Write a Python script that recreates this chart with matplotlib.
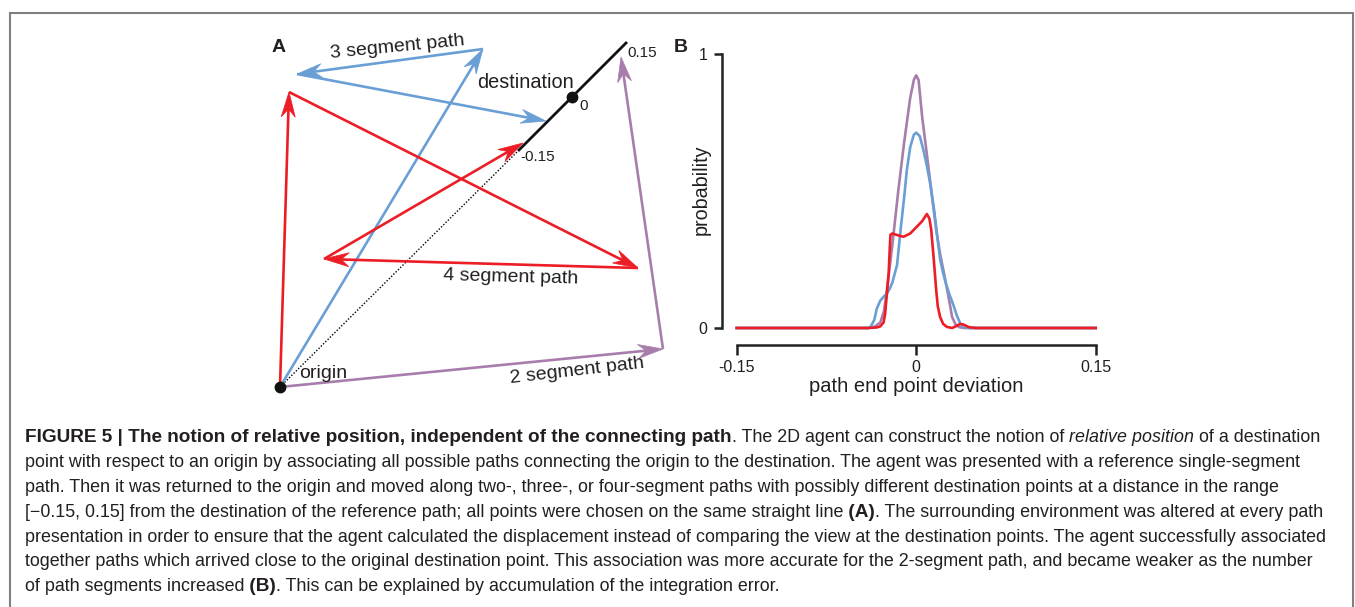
import numpy as np
import matplotlib
matplotlib.use("Agg")
import matplotlib.pyplot as plt
from matplotlib.patches import Polygon

# ---------------- data ----------------
# Panel A schematic (figure pixel coordinates of the drawing)
origin = (280, 387)
dest_minus = (518, 151)     # -0.15
dest_zero = (571.5, 96.5)   # 0
dest_plus = (627, 42)       # 0.15
path2 = [(280, 387), (663, 349), (621, 57)]
path3 = [(280, 387), (483, 49), (297, 74), (546, 121)]
path4 = [(280, 387), (289, 92), (638, 268), (324, 259), (523, 143)]

# Panel B curves
purple_x = [-0.15, -0.040, -0.035, -0.030, -0.027, -0.0245, -0.020, -0.015, -0.010, -0.005,
            -0.002, 0.0, 0.002, 0.005, 0.010, 0.0135, 0.017, 0.020, 0.025, 0.028, 0.030,
            0.033, 0.036, 0.040, 0.15]
purple_y = [0, 0, 0.004, 0.02, 0.06, 0.139, 0.30, 0.50, 0.68, 0.84,
            0.905, 0.922, 0.905, 0.77, 0.595, 0.47, 0.35, 0.27, 0.16, 0.09, 0.04,
            0.012, 0.003, 0, 0]
blue_x = [-0.15, -0.040, -0.038, -0.035, -0.033, -0.030, -0.027, -0.0245, -0.022, -0.020,
          -0.016, -0.013, -0.010, -0.0078, -0.005, -0.002, 0.0, 0.003, 0.006, 0.009, 0.012,
          0.015, 0.018, 0.020, 0.0225, 0.025, 0.028, 0.031, 0.034, 0.037, 0.040, 0.045, 0.15]
blue_y = [0, 0, 0.005, 0.03, 0.07, 0.10, 0.115, 0.125, 0.145, 0.165,
          0.23, 0.36, 0.48, 0.577, 0.66, 0.705, 0.713, 0.70, 0.65, 0.59, 0.52,
          0.43, 0.32, 0.25, 0.20, 0.16, 0.12, 0.085, 0.045, 0.015, 0.003, 0, 0]
red_x = [-0.15, -0.040, -0.033, -0.030, -0.0273, -0.026, -0.025, -0.023, -0.022, -0.0215,
         -0.020, -0.015, -0.0106, -0.005, 0.0006, 0.005, 0.0089, 0.011, 0.0125, 0.0145,
         0.0167, 0.018, 0.020, 0.0225, 0.0256, 0.030, 0.033, 0.0368, 0.040, 0.044, 0.050, 0.15]
red_y = [0, 0, 0.002, 0.006, 0.02, 0.05, 0.10, 0.20, 0.30, 0.34,
         0.345, 0.338, 0.333, 0.345, 0.37, 0.39, 0.416, 0.40, 0.36, 0.26,
         0.139, 0.08, 0.04, 0.015, 0.004, 0.0, 0.006, 0.015, 0.012, 0.003, 0, 0]
xticks = [-0.15, 0, 0.15]
xticklabels = ["-0.15", "0", "0.15"]
yticks = [0, 1]
yticklabels = ["0", "1"]

PURPLE = "#a77dab"
BLUE = "#6a9fd6"
RED = "#ec1d25"
INK = "#231f20"

W, H = 1355, 607
fig = plt.figure(figsize=(W / 100, H / 100), dpi=100)
fig.patch.set_facecolor("white")

axA = fig.add_axes([0, 0, 1, 1])
axA.set_xlim(0, W)
axA.set_ylim(H, 0)
axA.axis("off")

# border
axA.plot([9.5, 9.5, 1352.5, 1352.5], [607, 12.5, 12.5, 607], color="#7f7f7f", lw=1.5,
         solid_joinstyle="miter", clip_on=False)


def arrow(ax, p0, p1, color, lw=1.9, L=25, notch=17, Wd=7):
    p0 = np.asarray(p0, float)
    p1 = np.asarray(p1, float)
    d = p1 - p0
    u = d / np.hypot(*d)
    n = np.array([-u[1], u[0]])
    base = p1 - u * notch
    ax.plot([p0[0], base[0]], [p0[1], base[1]], color=color, lw=lw, solid_capstyle="butt")
    head = [p1, p1 - u * L + n * Wd, base, p1 - u * L - n * Wd]
    ax.add_patch(Polygon(head, closed=True, fc=color, ec=color, lw=0.5))


# reference line
axA.plot([origin[0], dest_minus[0]], [origin[1], dest_minus[1]], color="black", lw=1.0,
         ls=(0, (1, 1.3)))
axA.plot([dest_minus[0], dest_plus[0]], [dest_minus[1], dest_plus[1]], color="#111111", lw=2.0,
         solid_capstyle="butt")

for path, col in [(path2, PURPLE), (path3, BLUE), (path4, RED)]:
    for a, b in zip(path[:-1], path[1:]):
        arrow(axA, a, b, col)

axA.plot([origin[0]], [origin[1]], "o", color="#111111", ms=7.5)
axA.plot([dest_zero[0]], [dest_zero[1]], "o", color="#111111", ms=7.5)

tfont = ["Liberation Sans", "DejaVu Sans"]
axA.text(279, 47, "A", fontsize=14, fontweight="bold", family=tfont, color=INK, ha="center", va="center")
axA.text(681, 47, "B", fontsize=14, fontweight="bold", family=tfont, color=INK, ha="center", va="center")
axA.text(397, 47, "3 segment path", fontsize=14, family=tfont, color=INK, ha="center", va="center", rotation=5.5)
axA.text(525, 82, "destination", fontsize=14.3, family=tfont, color=INK, ha="center", va="center")
axA.text(584, 106, "0", fontsize=11, family=tfont, color=INK, ha="center", va="center")
axA.text(642, 53, "0.15", fontsize=11, family=tfont, color=INK, ha="center", va="center")
axA.text(538, 157, "-0.15", fontsize=11, family=tfont, color=INK, ha="center", va="center")
axA.text(511, 277, "4 segment path", fontsize=14, family=tfont, color=INK, ha="center", va="center", rotation=-1.5)
axA.text(323, 373, "origin", fontsize=14, family=tfont, color=INK, ha="center", va="center")
axA.text(577, 371, "2 segment path", fontsize=14, family=tfont, color=INK, ha="center", va="center", rotation=6.5)

# ---------------- caption ----------------
cfont = ["Liberation Sans", "DejaVu Sans"]
CS = 12.85
BS = 13.7
lines = [
    [("FIGURE 5 | The notion of relative position, independent of the connecting path", "b"),
     (". The 2D agent can construct the notion of", "r"), (" relative position", "i"),
     (" of a destination", "r")],
    [("point with respect to an origin by associating all possible paths connecting the origin to the destination. The agent was presented with a reference single-segment", "r")],
    [("path. Then it was returned to the origin and moved along two-, three-, or four-segment paths with possibly different destination points at a distance in the range", "r")],
    [("[\u22120.15, 0.15] from the destination of the reference path; all points were chosen on the same straight line", "r"),
     (" (A)", "b"), (". The surrounding environment was altered at every path", "r")],
    [("presentation in order to ensure that the agent calculated the displacement instead of comparing the view at the destination points. The agent successfully associated", "r")],
    [("together paths which arrived close to the original destination point. This association was more accurate for the 2-segment path, and became weaker as the number", "r")],
    [("of path segments increased", "r"), (" (B)", "b"),
     (". This can be explained by accumulation of the integration error.", "r")],
]


def style(k):
    return dict(fontweight="bold" if k == "b" else "normal",
                fontstyle="italic" if k == "i" else "normal",
                family=cfont,
                fontsize=BS if k == "b" else CS)


for i, segs in enumerate(lines):
    y = 446.5 + 24.8 * i
    t = axA.text(25, y, segs[0][0], color=INK, va="bottom", ha="left", **style(segs[0][1]))
    for s, k in segs[1:]:
        t = axA.annotate(s, xy=(1, 0), xycoords=t, va="bottom", ha="left", color=INK, **style(k))

# ---------------- panel B ----------------
axB = fig.add_axes([736.7 / W, (H - 328) / H, 359 / W, 274 / H])
axB.set_xlim(-0.15, 0.15)
axB.set_ylim(0, 1)
axB.patch.set_alpha(0)
axB.plot(purple_x, purple_y, color=PURPLE, lw=1.9, clip_on=False)
axB.plot(blue_x, blue_y, color=BLUE, lw=1.9, clip_on=False)
axB.plot(red_x, red_y, color=RED, lw=1.9, clip_on=False)

for s in ["top", "right"]:
    axB.spines[s].set_visible(False)
axB.spines["left"].set_position(("outward", 10.8))
axB.spines["bottom"].set_position(("outward", 12.5))
for s in ["left", "bottom"]:
    axB.spines[s].set_linewidth(1.8)
    axB.spines[s].set_color("#222222")
axB.set_xticks(xticks)
axB.set_xticklabels(xticklabels)
axB.set_yticks(yticks)
axB.set_yticklabels(yticklabels)
axB.tick_params(axis="y", length=5.8, width=1.8, pad=4.3, labelsize=11.5, color="#222222", labelcolor=INK)
axB.tick_params(axis="x", length=7.2, width=1.8, pad=3, labelsize=11.5, color="#222222", labelcolor=INK)
for lab in axB.get_xticklabels() + axB.get_yticklabels():
    lab.set_family(tfont)
axB.set_xlabel("path end point deviation", fontsize=14.5, family=tfont, color=INK)
axB.xaxis.set_label_coords(0.5, -0.179)
axB.set_ylabel("probability", fontsize=14.2, family=tfont, color=INK)
axB.yaxis.set_label_coords(-0.098, 0.504)
axB.yaxis.label.set_va("center")

fig.savefig("out.png", dpi=100, facecolor="white")
